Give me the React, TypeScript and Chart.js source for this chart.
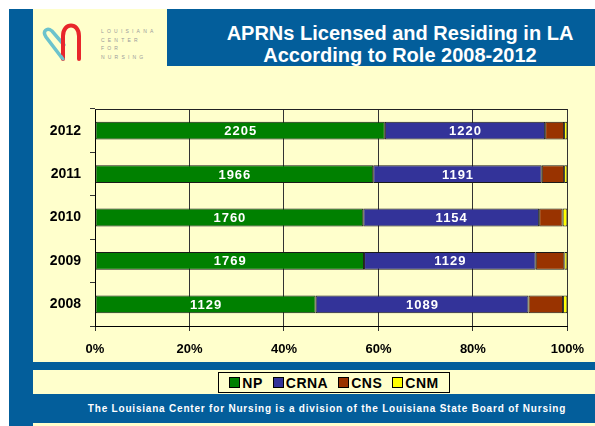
import React, { useEffect, useRef } from "react";
import { Chart, registerables } from "chart.js";

Chart.register(...registerables);

const years = ["2008", "2009", "2010", "2011", "2012"];
const npCounts = [1129, 1769, 1760, 1966, 2205];
const crnaCounts = [1089, 1129, 1154, 1191, 1220];
const cnsCounts = [177, 188, 154, 158, 144];
const cnmCounts = [22, 20, 31, 23, 25];
const seriesNames = ["NP", "CRNA", "CNS", "CNM"];
const seriesColors = ["#008000", "#333399", "#993300", "#FFFF00"];
const labeledSeries = [0, 1];
const xTickStep = 20;

const allCounts = [npCounts, crnaCounts, cnsCounts, cnmCounts];
const totals = years.map((_, i) => allCounts.reduce((s, arr) => s + arr[i], 0));

const FONT = "'Liberation Sans', Arial, Helvetica, sans-serif";
const BLUE = "#035E9B";
const CREAM = "#FFFFCC";

const topBorderPlugin = {
  id: "topBorder",
  afterDraw(chart: any) {
    const { ctx, chartArea } = chart;
    ctx.save();
    ctx.strokeStyle = "#222";
    ctx.lineWidth = 1;
    ctx.beginPath();
    ctx.moveTo(chartArea.left, Math.round(chartArea.top) + 0.5);
    ctx.lineTo(chartArea.right, Math.round(chartArea.top) + 0.5);
    ctx.stroke();
    ctx.restore();
  },
};

const valueLabelPlugin = {
  id: "valueLabels",
  afterDatasetsDraw(chart: any) {
    const ctx = chart.ctx;
    ctx.save();
    ctx.fillStyle = "#ffffff";
    ctx.font = `bold 13px ${FONT}`;
    try {
      (ctx as any).letterSpacing = "1px";
    } catch (e) {}
    ctx.textAlign = "center";
    ctx.textBaseline = "middle";
    labeledSeries.forEach((di) => {
      const meta = chart.getDatasetMeta(di);
      meta.data.forEach((bar: any, i: number) => {
        const p = bar.getProps(["x", "y", "base"], true);
        ctx.fillText(String(allCounts[di][i]), (p.x + p.base) / 2 + 0.5, p.y + 1);
      });
    });
    ctx.restore();
  },
};

function ChartCanvas() {
  const ref = useRef<HTMLCanvasElement | null>(null);
  useEffect(() => {
    if (!ref.current) return;
    const chart = new Chart(ref.current, {
      type: "bar",
      data: {
        labels: years,
        datasets: allCounts.map((arr, k) => ({
          label: seriesNames[k],
          data: arr.map((v, i) => (v / totals[i]) * 100),
          backgroundColor: seriesColors[k],
          borderColor: "#1a1a1a",
          borderWidth: 1,
          borderSkipped: false,
          barPercentage: 0.41,
          categoryPercentage: 1,
        })),
      },
      options: {
        indexAxis: "y",
        animation: false,
        responsive: false,
        maintainAspectRatio: false,
        layout: { padding: { left: 0, top: 43, right: 25, bottom: 0 } },
        plugins: { legend: { display: false }, tooltip: { enabled: false } },
        scales: {
          x: {
            stacked: true,
            min: 0,
            max: 100,
            ticks: {
              stepSize: xTickStep,
              callback: (v: any) => `${v}%`,
              color: "#000",
              font: { family: FONT, size: 13, weight: "bold" },
              padding: 11,
              maxRotation: 0,
            },
            grid: { color: "#333", lineWidth: 1, tickLength: 5, drawTicks: true },
            border: { color: "#000", width: 1 },
            afterFit(s: any) {
              s.height = 36;
            },
          },
          y: {
            stacked: true,
            reverse: true,
            ticks: {
              color: "#000",
              font: { family: FONT, size: 14, weight: "bold" },
              padding: 9,
            },
            grid: { drawOnChartArea: false, tickLength: 5, color: "#333", offset: true },
            border: { color: "#000", width: 1 },
            afterFit(s: any) {
              s.width = 62;
            },
          },
        },
      } as any,
      plugins: [topBorderPlugin, valueLabelPlugin],
    });
    return () => chart.destroy();
  }, []);
  return (
    <canvas
      ref={ref}
      width={562}
      height={296}
      style={{ position: "absolute", left: 33, top: 66, width: 562, height: 296 }}
    />
  );
}

function Logo() {
  const letters = ["LOUISIANA", "CENTER", "FOR", "NURSING"];
  return (
    <>
      <svg
        width={60}
        height={50}
        style={{ position: "absolute", left: 36, top: 18 }}
        viewBox="0 0 60 50"
      >
        <path
          d="M26 40 L 10 19 C 6 13, 11 9, 16 13 L 28 27"
          stroke="#6CC3CC"
          strokeWidth={3.5}
          fill="none"
          strokeLinecap="round"
        />
        <path
          d="M27 41 L 27 18 C 27 4, 43 4, 43 18 L 43 41"
          stroke="#E8262B"
          strokeWidth={4}
          fill="none"
          strokeLinecap="round"
        />
        <path d="M25 38 L 27 41" stroke="#6CC3CC" strokeWidth={3} strokeLinecap="round" />
      </svg>
      <div
        style={{
          position: "absolute",
          left: 101,
          top: 27,
          fontFamily: FONT,
          fontSize: 5,
          lineHeight: "8.5px",
          letterSpacing: 3.2,
          color: "#9a9a9a",
        }}
      >
        {letters.map((l) => (
          <div key={l}>{l}</div>
        ))}
      </div>
    </>
  );
}

export default function App() {
  return (
    <div
      style={{
        position: "absolute",
        left: 0,
        top: 0,
        width: 595,
        height: 426,
        background: "#fff",
        overflow: "hidden",
        fontFamily: FONT,
      }}
    >
      <div style={{ position: "absolute", left: 33, top: 9, width: 562, height: 417, background: CREAM }} />
      <div style={{ position: "absolute", left: 9, top: 9, width: 24, height: 417, background: BLUE }} />
      <div
        style={{
          position: "absolute",
          left: 167,
          top: 9,
          width: 428,
          height: 57,
          background: BLUE,
        }}
      />
      <div
        style={{
          position: "absolute",
          left: 200,
          top: 22,
          width: 400,
          textAlign: "center",
          color: "#fff",
          fontWeight: "bold",
          fontSize: 20,
          lineHeight: "22px",
          whiteSpace: "nowrap",
        }}
      >
        APRNs Licensed and Residing in LA
        <br />
        According to Role 2008-2012
      </div>
      <Logo />
      <ChartCanvas />
      <div style={{ position: "absolute", left: 9, top: 362, width: 586, height: 8, background: BLUE }} />
      <div style={{ position: "absolute", left: 9, top: 394, width: 586, height: 29, background: BLUE }} />
      <div style={{ position: "absolute", left: 9, top: 394, width: 24, height: 32, background: BLUE }} />
      <div
        style={{
          position: "absolute",
          left: 218,
          top: 372,
          width: 230,
          height: 19,
          border: "1px solid #000",
          background: CREAM,
          display: "flex",
          alignItems: "center",
          justifyContent: "center",
          gap: 10,
        }}
      >
        {seriesNames.map((n, k) => (
          <div key={n} style={{ display: "flex", alignItems: "center", gap: 2 }}>
            <span
              style={{
                display: "inline-block",
                width: 9,
                height: 9,
                background: seriesColors[k],
                border: "1px solid #000",
              }}
            />
            <span style={{ fontWeight: "bold", fontSize: 14, color: "#000", letterSpacing: 0.5 }}>{n}</span>
          </div>
        ))}
      </div>
      <div
        style={{
          position: "absolute",
          left: 33,
          width: 588,
          top: 403,
          textAlign: "center",
          color: "#fff",
          fontWeight: "bold",
          fontSize: 10,
          letterSpacing: 0.8,
          whiteSpace: "nowrap",
        }}
      >
        The Louisiana Center for Nursing is a division of the Louisiana State Board of Nursing
      </div>
    </div>
  );
}
